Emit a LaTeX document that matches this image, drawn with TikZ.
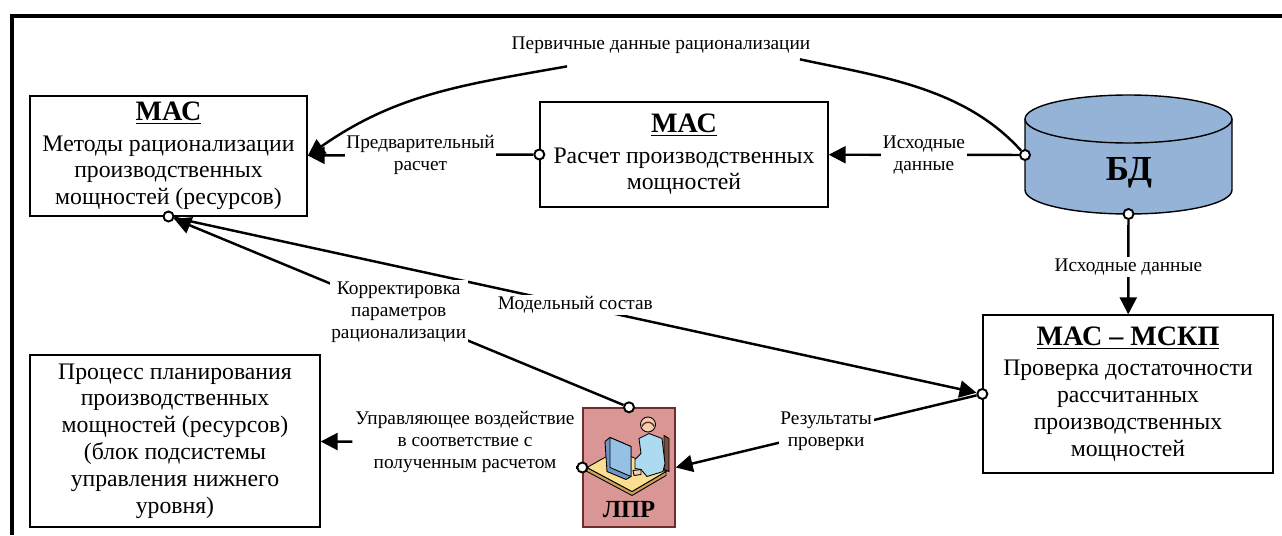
\documentclass[tikz,border=0pt]{standalone}
\usepackage{fontspec}
\setmainfont{Liberation Serif}
\usepackage{tikz}
\usetikzlibrary{positioning, arrows.meta}
\definecolor{dbblue}{RGB}{149, 179, 215}
\definecolor{lprred}{RGB}{217, 150, 148}
\definecolor{lprframe}{RGB}{110, 45, 45}
\definecolor{desktop}{RGB}{250, 222, 145}
\definecolor{deskedge}{RGB}{205, 160, 90}
\definecolor{screen}{RGB}{150, 192, 228}
\definecolor{screenside}{RGB}{110, 150, 195}
\definecolor{shirt}{RGB}{172, 218, 240}
\definecolor{skin}{RGB}{245, 205, 175}
\definecolor{chair}{RGB}{120, 80, 60}
\newcommand{\machead}[1]{{\fontsize{16}{18}\selectfont\bfseries\underline{#1}}\\[2pt]}

\begin{document}
\begin{tikzpicture}[x = 0.02cm, y = 0.02cm, line width = 1.4pt, >={Triangle[length = 0.34cm, width = 0.34cm]},
  block/.style={draw, line width = 0.8pt, align = center, font = \fontsize{13.5}{15.3}\selectfont},
  port/.style={circle, draw, fill = white, line width = 1.1pt, inner sep = 0pt, minimum size = 0.2cm},
  lbl/.style={fill = white, align = center, inner sep = 1pt, font = \fontsize{11}{12.5}\selectfont}]
  \useasboundingbox (0,0) rectangle (1282,535);
  \draw [line width = 2.8pt] (12,0) -- (12,519) -- (1282,519);

  % nodes
  \node [block, minimum width = 5.54cm, minimum height = 2.36cm] (mac_rat) at (168.5,379) {\machead{МАС}Методы рационализации\\производственных\\мощностей (ресурсов)};
  \node [block, minimum width = 5.76cm, minimum height = 2.1cm] (mac_calc) at (684,380.5) {\machead{МАС}Расчет производственных\\мощностей};
  \node [block, minimum width = 5.8cm, minimum height = 3.16cm] (mac_check) at (1128,141) {\machead{МАС -- МСКП}Проверка достаточности\\рассчитанных\\производственных\\мощностей};
  \node [block, minimum width = 5.8cm, minimum height = 3.44cm] (plan) at (175,94) {Процесс планирования\\производственных\\мощностей (ресурсов)\\(блок подсистемы\\управления нижнего\\уровня)};

  % database
  \fill [dbblue] (1025,416) -- (1025,345) arc [start angle = 180, end angle = 360, x radius = 2.07cm, y radius = 0.48cm] -- (1232,416) arc [start angle = 0, end angle = 180, x radius = 2.07cm, y radius = 0.48cm] -- cycle;
  \draw [line width = 0.8pt] (1025,416) -- (1025,345) arc [start angle = 180, end angle = 360, x radius = 2.07cm, y radius = 0.48cm] -- (1232,416);
  \draw [line width = 0.8pt] (1128.5,416) ellipse [x radius = 2.07cm, y radius = 0.48cm];
  \node [font = \fontsize{20}{22}\selectfont\bfseries] (db) at (1129,362) {БД};

  % decision maker
  \node [draw = lprframe, fill = lprred, line width = 0.8pt, minimum width = 1.84cm, minimum height = 2.38cm] (lpr) at (629,67.5) {};
  \node [font = \fontsize{14}{16}\selectfont\bfseries, above = 0.06cm of lpr.south] (lpr_text) {ЛПР};
  \begin{scope}[shift = {(629,67.5)}, line width = 0.5pt]
    \filldraw [fill = chair] (35,32) -- (40,29) -- (40,-4) -- (35,-2) -- cycle;
    \filldraw [fill = deskedge] (-42,0) -- (3,-24) -- (37,-4) -- (37,-8) -- (3,-28) -- (-42,-4) -- cycle;
    \filldraw [fill = desktop] (-42,0) -- (-12,17) -- (37,-4) -- (3,-24) -- cycle;
    \filldraw [fill = screenside] (-24,26) -- (-19,30) -- (2,21) -- (2,-9) -- (-3,-12) -- (-22,-4) -- cycle;
    \filldraw [fill = screen] (-19,30) -- (2,21) -- (2,-9) -- (-19,0) -- cycle;
    \filldraw [fill = shirt] (10,29) -- (20,34) -- (33,29) -- (36,4) -- (34,-4) -- (18,-9) -- (12,-2) -- (6,-1) -- (6,8) -- (12,14) -- cycle;
    \filldraw [fill = skin] (4,-3) -- (12,-2) -- (12,-7) -- (5,-8) -- cycle;
    \filldraw [fill = skin] (19,43) circle [radius = 0.15cm];
    \draw [line width = 0.8pt, lprframe] (13,41) arc [start angle = 160, end angle = 20, radius = 0.13cm];
  \end{scope}

  % ports
  \node [port] (calc_out) at (mac_calc.west) {};
  \node [port] (db_left) at (1025,380) {};
  \node [port] (db_bottom) at (1128.5,321) {};
  \node [port] (rat_out) at (mac_rat.south) {};
  \node [port] (check_in) at (mac_check.west) {};
  \node [port] (lpr_top) at (lpr.north) {};
  \node [port] (lpr_left) at (lpr.west) {};

  % edges
  \draw [->] (calc_out) to node [lbl] {Предварительный\\расчет} (mac_rat);
  \draw [->] (db_left) to node [lbl] {Исходные\\данные} (mac_calc);
  \node [lbl] (prim) at (661,490) {Первичные данные рационализации};
  \draw (db_left) to [out = 132, in = -12, looseness = 0.9] ([xshift = 2.78cm, yshift = -0.06cm] prim.south);
  \draw [->] ([xshift = -1.88cm, yshift = -0.2cm] prim.south) to [out = 190, in = 35] (mac_rat.east);
  \draw [->] (db_bottom) to node [lbl] {Исходные данные} (mac_check);
  \draw [->] (rat_out) to node [lbl] {Модельный состав} (check_in);
  \draw [->] (lpr_top) to node [lbl] {Корректировка\\параметров\\рационализации} (rat_out);
  \draw [->] (check_in) to node [lbl] {Результаты\\проверки} (lpr.east);
  \node [lbl] (ctrl) at (465,93) {Управляющее воздействие\\в соответствие с\\полученным расчетом};
  \draw (lpr_left) -- (lpr_left -| ctrl.east);
  \draw [->] (ctrl) to (plan);
\end{tikzpicture}
\end{document}
